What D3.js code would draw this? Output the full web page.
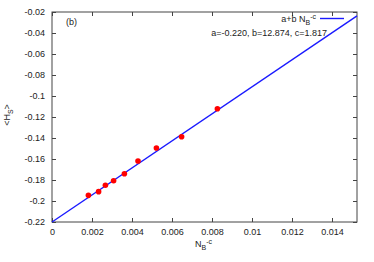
<!DOCTYPE html>
<html>
<head>
<meta charset="utf-8">
<script src="https://cdn.jsdelivr.net/npm/d3@7"></script>
<style>
  body { margin: 0; background: #fff; }
  text { font-family: "Liberation Sans", Arial, sans-serif; fill: #222; }
</style>
</head>
<body>
<div id="chart"></div>
<script>
// data
var nbc = [0.00182, 0.00233, 0.00267, 0.00308, 0.00362, 0.0043, 0.00522, 0.00648, 0.00827];
var hs = [-0.1946, -0.1911, -0.1850, -0.1807, -0.1740, -0.1619, -0.1495, -0.1388, -0.1121];
var xTicks = [0, 0.002, 0.004, 0.006, 0.008, 0.01, 0.012, 0.014];
var yTicks = [-0.22, -0.2, -0.18, -0.16, -0.14, -0.12, -0.1, -0.08, -0.06, -0.04, -0.02];
var fitA = -0.220, fitB = 12.874, fitC = 1.817;

var W = 374, H = 262;
var margin = {top: 12, right: 17, bottom: 40, left: 52};
var width = W - margin.left - margin.right;
var height = H - margin.top - margin.bottom;

var svg = d3.select("#chart").append("svg")
    .attr("width", W)
    .attr("height", H);

var x = d3.scaleLinear().domain([0, 0.01525]).range([0, width]);
var y = d3.scaleLinear().domain([-0.22, -0.02]).range([height, 0]);

var g = svg.append("g")
    .attr("transform", "translate(" + margin.left + "," + margin.top + ")");

var fmt = function(d) { return d === 0 ? "0" : String(+d.toFixed(3)); };

// axes, ticks pointing inward, mirrored on top/right
g.append("g")
    .attr("transform", "translate(0," + height + ")")
    .call(d3.axisBottom(x).tickValues(xTicks).tickSizeInner(-4).tickSizeOuter(0).tickPadding(7).tickFormat(fmt));
g.append("g")
    .call(d3.axisTop(x).tickValues(xTicks).tickSizeInner(-4).tickSizeOuter(0).tickFormat(""));
g.append("g")
    .call(d3.axisLeft(y).tickValues(yTicks).tickSizeInner(-4).tickSizeOuter(0).tickPadding(7).tickFormat(fmt));
g.append("g")
    .attr("transform", "translate(" + width + ",0)")
    .call(d3.axisRight(y).tickValues(yTicks).tickSizeInner(-4).tickSizeOuter(0).tickFormat(""));

g.selectAll(".domain").remove();
g.selectAll(".tick line").attr("stroke", "#444");
g.selectAll(".tick text").style("font-size", "9px").attr("fill", "#222");

g.append("rect")
    .attr("width", width)
    .attr("height", height)
    .attr("fill", "none")
    .attr("stroke", "#444")
    .attr("stroke-width", 1);

// fit line a + b x
var fitX = [0, x.domain()[1]];
g.append("path")
    .datum(fitX)
    .attr("fill", "none")
    .attr("stroke", "#1a1aff")
    .attr("stroke-width", 1.4)
    .attr("d", d3.line().x(function(d) { return x(d); }).y(function(d) { return y(fitA + fitB * d); }));

// points
g.selectAll("circle.pt")
    .data(nbc)
    .enter().append("circle")
    .attr("class", "pt")
    .attr("cx", function(d) { return x(d); })
    .attr("cy", function(d, i) { return y(hs[i]); })
    .attr("r", 2.8)
    .attr("fill", "#ff0000");

// panel label
g.append("text")
    .attr("x", 14)
    .attr("y", 13)
    .style("font-size", "9px")
    .text("(b)");

// legend
var leg = g.append("text")
    .attr("x", 264)
    .attr("y", 10)
    .attr("text-anchor", "end")
    .style("font-size", "9px");
leg.append("tspan").text("a+b N");
leg.append("tspan").attr("dy", 2.5).style("font-size", "7px").text("B");
leg.append("tspan").attr("dy", -6).style("font-size", "7px").text("-c");
g.append("line")
    .attr("x1", 268).attr("x2", 292)
    .attr("y1", 6.5).attr("y2", 6.5)
    .attr("stroke", "#1a1aff")
    .attr("stroke-width", 1.4);
g.append("text")
    .attr("x", 275)
    .attr("y", 24)
    .attr("text-anchor", "end")
    .style("font-size", "9px")
    .text("a=" + fitA.toFixed(3) + ", b=" + fitB.toFixed(3) + ", c=" + fitC.toFixed(3));

// axis titles
var xl = svg.append("text")
    .attr("x", 195)
    .attr("y", 247)
    .style("font-size", "9px");
xl.append("tspan").text("N");
xl.append("tspan").attr("dy", 2.5).style("font-size", "7px").text("B");
xl.append("tspan").attr("dy", -6).style("font-size", "7px").text("-c");

var yl = svg.append("text")
    .attr("transform", "translate(10,115) rotate(-90)")
    .attr("text-anchor", "middle")
    .style("font-size", "9px");
yl.append("tspan").text("<H");
yl.append("tspan").attr("dy", 2.5).style("font-size", "7px").text("S");
yl.append("tspan").attr("dy", -2.5).text(">");
</script>
</body>
</html>
